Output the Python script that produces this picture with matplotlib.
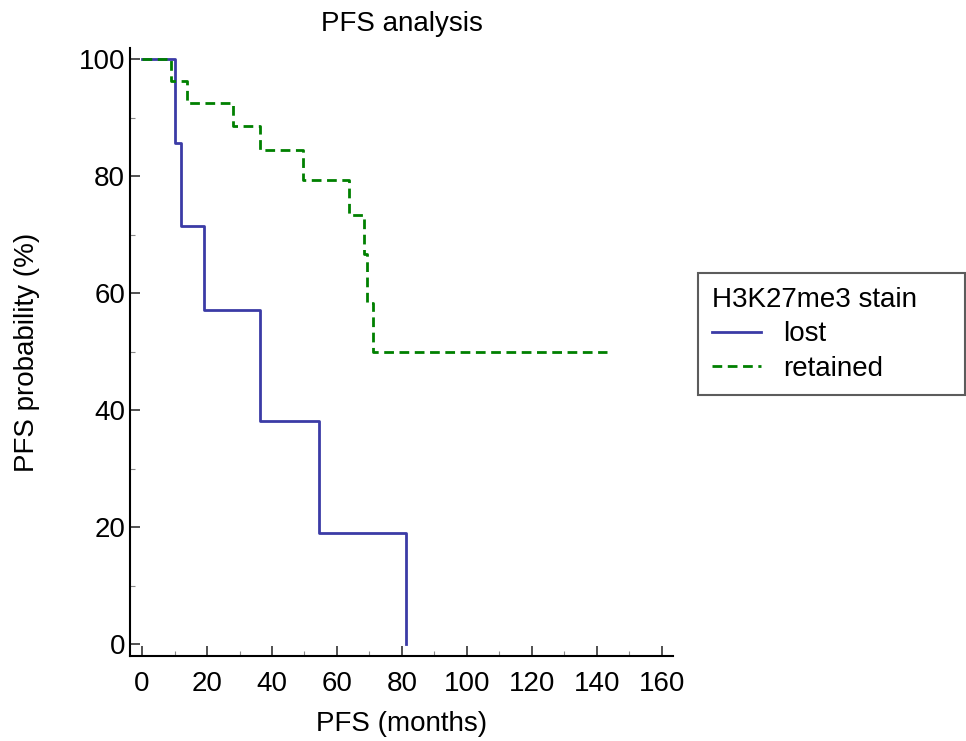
import numpy as np
import matplotlib.pyplot as plt
from matplotlib.ticker import MultipleLocator

plt.rcParams['font.family'] = ['Liberation Sans', 'DejaVu Sans']

# Kaplan-Meier step data
lost_t = [0, 10.2, 12.0, 19.2, 36.4, 54.4, 81.2]
lost_s = [100, 85.7, 71.4, 57.1, 38.1, 19.0, 0]

ret_t = [0, 9.0, 13.9, 28.1, 36.4, 49.4, 63.6, 68.3, 69.3, 71.0, 143.0]
ret_s = [100, 96.2, 92.5, 88.5, 84.4, 79.4, 73.3, 66.6, 58.3, 50.0, 50.0]

fig = plt.figure(figsize=(9.66, 7.41), dpi=100)
ax = fig.add_axes([0.1346, 0.1147, 0.562, 0.8205])

ax.step(lost_t, lost_s, where='post', color='#3b3ba6', lw=2.0, label='lost')
ax.step(ret_t, ret_s, where='post', color='#008000', lw=2.0,
        linestyle=(0, (3.5, 2)), label='retained')

ax.set_xlim(-3.7, 163.4)
ax.set_ylim(-2.05, 101.9)
ax.xaxis.set_major_locator(MultipleLocator(20))
ax.xaxis.set_minor_locator(MultipleLocator(10))
ax.yaxis.set_major_locator(MultipleLocator(20))
ax.yaxis.set_minor_locator(MultipleLocator(10))
ax.tick_params(which='major', direction='in', length=7, width=1.2,
               color='#333333', labelsize=20)
ax.tick_params(which='minor', direction='in', length=3.5, width=0.8,
               color='#888888')
ax.tick_params(axis='x', which='major', pad=11)
for s in ['top', 'right']:
    ax.spines[s].set_visible(False)
for s in ['left', 'bottom']:
    ax.spines[s].set_linewidth(1.5)

ax.set_title('PFS analysis', fontsize=20, pad=12)
ax.set_xlabel('PFS (months)', fontsize=20, labelpad=10)
ax.set_ylabel('PFS probability (%)', fontsize=20, labelpad=28)

leg = ax.legend(title='H3K27me3 stain', fontsize=20, title_fontsize=20,
                loc='upper left',
                bbox_to_anchor=(698 / 966, 1 - 393 / 741, 267 / 966, 120 / 741),
                bbox_transform=fig.transFigure, mode='expand',
                frameon=True, fancybox=False, borderaxespad=0,
                edgecolor='#333333', handlelength=1.75, borderpad=0.5,
                labelspacing=0.3, handletextpad=0.8, alignment='left')
leg.get_frame().set_linewidth(1.5)

fig.savefig('out.png', dpi=100)
